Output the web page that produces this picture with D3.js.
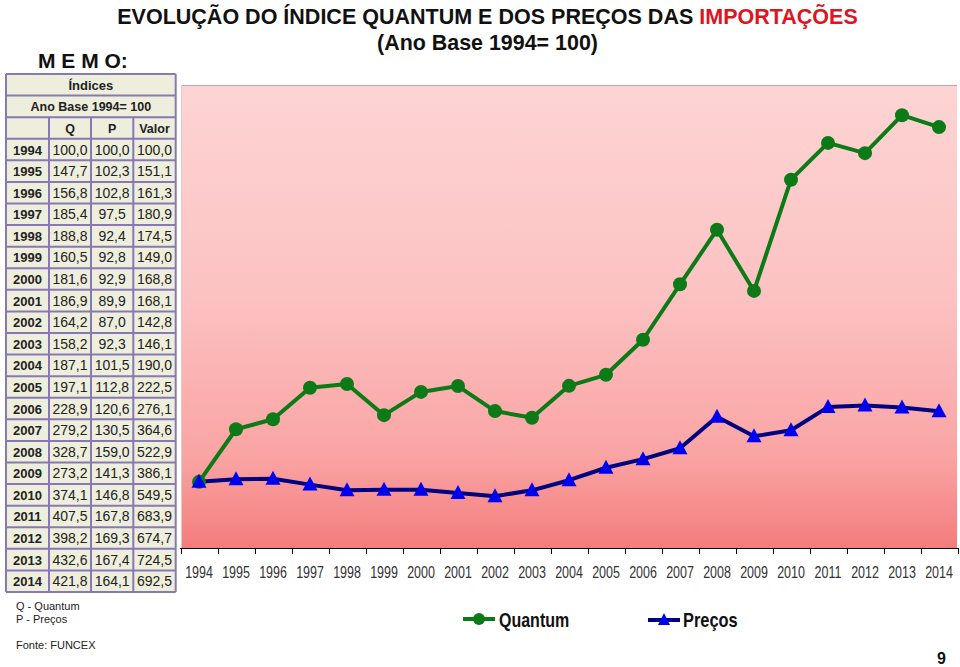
<!DOCTYPE html>
<html><head><meta charset="utf-8">
<script src="https://cdn.jsdelivr.net/npm/d3@7"></script>
<style>
body{margin:0;background:#fff;}
svg{display:block;font-family:"Liberation Sans",Arial,sans-serif;}
</style></head>
<body><svg id="c" width="960" height="667"></svg>
<script>
const years = [1994,1995,1996,1997,1998,1999,2000,2001,2002,2003,2004,2005,2006,2007,2008,2009,2010,2011,2012,2013,2014];
const quantum = [100.0,147.7,156.8,185.4,188.8,160.5,181.6,186.9,164.2,158.2,187.1,197.1,228.9,279.2,328.7,273.2,374.1,407.5,398.2,432.6,421.8];
const precos = [100.0,102.3,102.8,97.5,92.4,92.8,92.9,89.9,87.0,92.3,101.5,112.8,120.6,130.5,159.0,141.3,146.8,167.8,169.3,167.4,164.1];
const valor = [100.0,151.1,161.3,180.9,174.5,149.0,168.8,168.1,142.8,146.1,190.0,222.5,276.1,364.6,522.9,386.1,549.5,683.9,674.7,724.5,692.5];
const yDomain = [40, 460];

const svg = d3.select("#c");
const fmt = v => v.toFixed(1).replace(".", ",");

function scaledText(parent, xx, yy, sx, anchor) {
  return parent.append("text").attr("transform", `translate(${xx},${yy}) scale(${sx},1)`).attr("text-anchor", anchor || "start");
}

// Titles
const t = scaledText(svg, 487.5, 24, 1, "middle").attr("font-size", 22).attr("font-weight", "bold").attr("fill", "#111");
t.append("tspan").text("EVOLUÇÃO DO ÍNDICE QUANTUM E DOS PREÇOS DAS ");
t.append("tspan").attr("fill", "#e0141e").text("IMPORTAÇÕES");
{
  const w = t.node().getComputedTextLength();
  t.attr("transform", `translate(487.5,24) scale(${741 / w},1)`);
}
const t2 = scaledText(svg, 487.5, 50, 1, "middle").attr("font-size", 21.5).attr("font-weight", "bold").attr("fill", "#111").text("(Ano Base 1994= 100)");
{
  const w = t2.node().getComputedTextLength();
  t2.attr("transform", `translate(487.5,50) scale(${221 / w},1)`);
}
svg.append("text").attr("x", 38).attr("y", 68).attr("font-size", 21).attr("font-weight", "bold")
  .attr("fill", "#111").text("M E M O:");

// Plot
const x = d3.scaleBand().domain(years).range([180.5, 957.5]);
const y = d3.scaleLinear().domain(yDomain).range([548, 85]);
const defs = svg.append("defs");
const g = defs.append("linearGradient").attr("id", "bg").attr("x1", 0).attr("y1", 0).attr("x2", 0).attr("y2", 1);
[[0,"#fdd4d4"],[0.45,"#fcc2c2"],[0.8,"#faa4a4"],[1,"#f47c7c"]].forEach(s=>g.append("stop").attr("offset", s[0]).attr("stop-color", s[1]));
svg.append("rect").attr("x", 181).attr("y", y.range()[1]).attr("width", 776).attr("height", 548 - 85).attr("fill", "url(#bg)");
svg.append("line").attr("x1", 181).attr("x2", 957).attr("y1", 85.5).attr("y2", 85.5).attr("stroke", "#b8a8a8");
svg.append("line").attr("x1", 181.5).attr("x2", 181.5).attr("y1", 85).attr("y2", 548).attr("stroke", "#e8c8c8");

// X axis
const ax = svg.append("g").attr("transform", "translate(0,548)");
ax.append("line").attr("x1", 180).attr("x2", 958).attr("y1", 0.5).attr("y2", 0.5).attr("stroke", "#000");
const tickXs = years.map(d => x(d)).concat([x.range()[1]]);
ax.selectAll("line.t").data(tickXs).join("line").attr("class", "t")
  .attr("x1", d => Math.round(d) + 0.5).attr("x2", d => Math.round(d) + 0.5).attr("y1", 0).attr("y2", 6).attr("stroke", "#000");
ax.selectAll("text").data(years).join("text")
  .attr("transform", d => `translate(${x(d) + x.bandwidth() / 2},30) scale(0.78,1)`)
  .attr("text-anchor", "middle").attr("font-size", 16).attr("fill", "#333").text(d => d);

const cx = d => x(d) + x.bandwidth() / 2;
const line = d3.line().x((d, i) => cx(years[i])).y(d => y(d));

// Precos
svg.append("path").datum(precos).attr("d", line).attr("fill", "none").attr("stroke", "#000080").attr("stroke-width", 4).attr("stroke-linejoin", "round");
// Quantum
svg.append("path").datum(quantum).attr("d", line).attr("fill", "none").attr("stroke", "#0b7a17").attr("stroke-width", 4).attr("stroke-linejoin", "round");
svg.selectAll("circle.q").data(quantum).join("circle").attr("class", "q")
  .attr("cx", (d, i) => cx(years[i])).attr("cy", d => y(d)).attr("r", 7).attr("fill", "#0b7a17");
const tri = "M0,-8L7.5,6L-7.5,6Z";
svg.selectAll("path.p").data(precos).join("path").attr("class", "p")
  .attr("transform", (d, i) => `translate(${cx(years[i])},${y(d)})`).attr("d", tri).attr("fill", "#0000f0");

// Legend
const lg = svg.append("g");
lg.append("line").attr("x1", 463).attr("x2", 495).attr("y1", 619).attr("y2", 619).attr("stroke", "#0b7a17").attr("stroke-width", 4);
lg.append("circle").attr("cx", 479).attr("cy", 619).attr("r", 6).attr("fill", "#0b7a17");
scaledText(lg, 499, 627, 0.8).attr("font-weight", "bold").attr("font-size", 20).attr("fill", "#111").text("Quantum");
lg.append("line").attr("x1", 648).attr("x2", 680).attr("y1", 620).attr("y2", 620).attr("stroke", "#000080").attr("stroke-width", 4);
lg.append("path").attr("transform", "translate(664,620)").attr("d", "M0,-7L6,5L-6,5Z").attr("fill", "#0000f0");
scaledText(lg, 683, 627, 0.82).attr("font-weight", "bold").attr("font-size", 20).attr("fill", "#111").text("Preços");

// Table
const cols = [6, 49, 91, 133.3, 175.7];
const tTop = 74, rh = (592 - 74) / 24;
const tb = svg.append("g");
tb.append("rect").attr("x", cols[0]).attr("y", tTop).attr("width", cols[4] - cols[0]).attr("height", 24 * rh).attr("fill", "#eeeedd");
const txt = (xx, yy, s, bold, size) => tb.append("text").attr("x", xx).attr("y", yy).attr("text-anchor", "middle")
  .attr("font-size", size).attr("font-weight", bold ? "bold" : "normal").attr("fill", "#222").text(s);
const mid = (cols[0] + cols[4]) / 2;
txt(mid, tTop + rh / 2 + 5, "Índices", true, 13);
txt(mid, tTop + rh * 1.5 + 5, "Ano Base 1994= 100", true, 12.5);
txt((cols[1] + cols[2]) / 2, tTop + rh * 2.5 + 5, "Q", true, 12.5);
txt((cols[2] + cols[3]) / 2, tTop + rh * 2.5 + 5, "P", true, 12.5);
txt((cols[3] + cols[4]) / 2, tTop + rh * 2.5 + 5, "Valor", true, 12.5);
years.forEach((yr, i) => {
  const yy = tTop + rh * (3 + i) + rh / 2 + 5;
  txt((cols[0] + cols[1]) / 2, yy, yr, true, 13);
  txt((cols[1] + cols[2]) / 2, yy, fmt(quantum[i]), false, 14);
  txt((cols[2] + cols[3]) / 2, yy, fmt(precos[i]), false, 14);
  txt((cols[3] + cols[4]) / 2, yy, fmt(valor[i]), false, 14);
});
const bc = "#8878b4";
for (let r = 0; r <= 24; r++) {
  tb.append("line").attr("x1", cols[0]).attr("x2", cols[4]).attr("y1", tTop + r * rh).attr("y2", tTop + r * rh).attr("stroke", bc).attr("stroke-width", 2);
}
tb.append("line").attr("x1", cols[0]).attr("x2", cols[0]).attr("y1", tTop).attr("y2", tTop + 24 * rh).attr("stroke", bc).attr("stroke-width", 2);
tb.append("line").attr("x1", cols[4]).attr("x2", cols[4]).attr("y1", tTop).attr("y2", tTop + 24 * rh).attr("stroke", bc).attr("stroke-width", 2);
[1, 2, 3].forEach(c => tb.append("line").attr("x1", cols[c]).attr("x2", cols[c]).attr("y1", tTop + 2 * rh).attr("y2", tTop + 24 * rh).attr("stroke", bc).attr("stroke-width", 2));

// Notes
const note = (yy, s) => svg.append("text").attr("x", 16).attr("y", yy).attr("font-size", 11).attr("fill", "#222").text(s);
note(610, "Q - Quantum");
note(623, "P - Preços");
note(649, "Fonte:  FUNCEX");
svg.append("text").attr("x", 937).attr("y", 664).attr("font-size", 16).attr("font-weight", "bold").attr("fill", "#111").text("9");
</script></body></html>
